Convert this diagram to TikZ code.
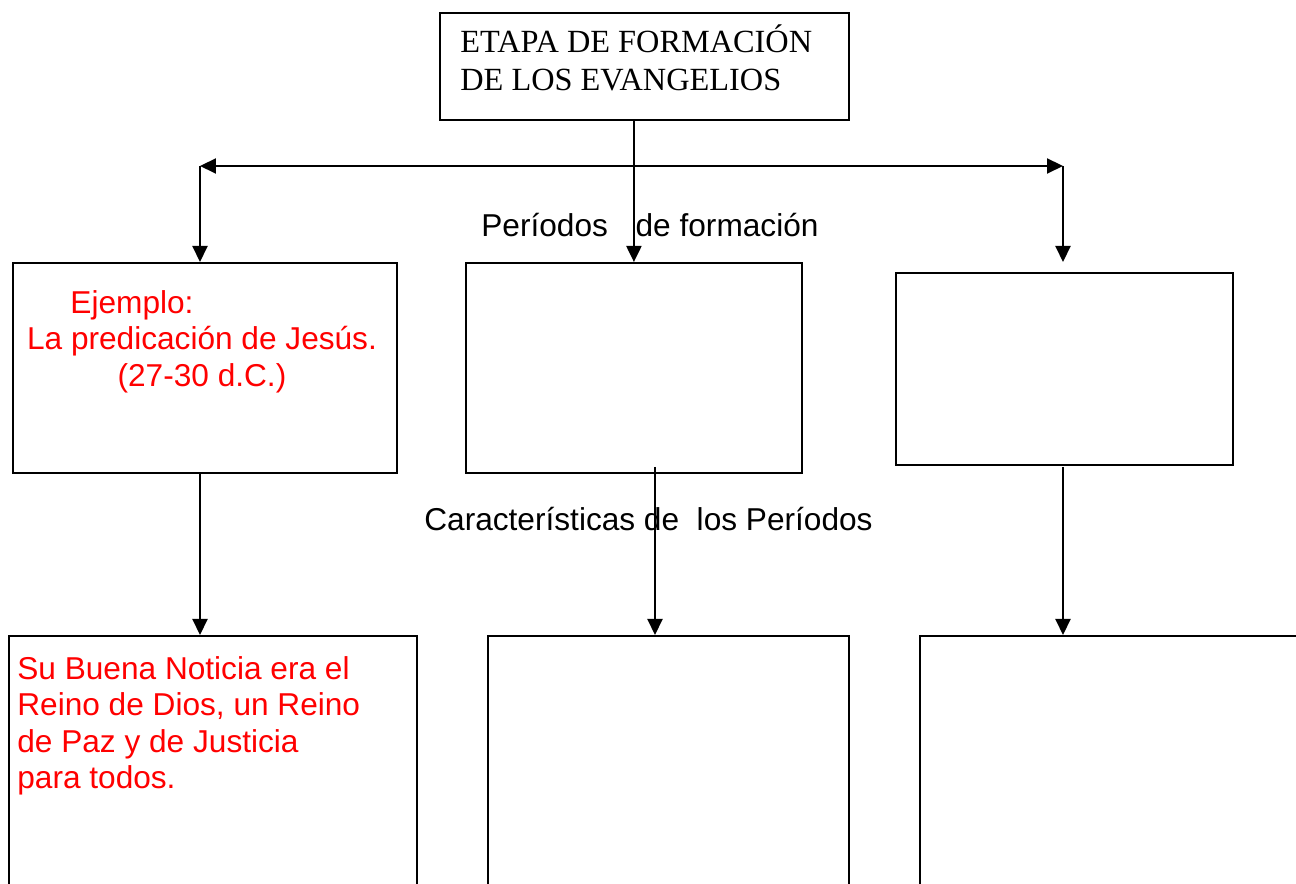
\documentclass[tikz,border=0pt]{standalone}
\usepackage{fontspec}
\setmainfont{Liberation Serif}
\newfontfamily\arialfont{Liberation Sans}
\usetikzlibrary{arrows.meta}

\begin{document}
\begin{tikzpicture}[x=0.02cm, y=-0.02cm,
    box/.style={rectangle, draw=black, line width=1.1pt, anchor=north west, inner sep=0pt},
    arr/.style={line width=1.2pt, -{Triangle[length=0.32cm, width=0.3cm]}},
    lbl/.style={font=\arialfont\fontsize{18}{21}\selectfont, anchor=base west, inner sep=0pt},
    redtxt/.style={font=\arialfont\fontsize{18}{20.8}\selectfont, text=red, inner sep=0pt}]
    \useasboundingbox (0,0) rectangle (1296,884);
    \clip (0,0) rectangle (1296,884);

    % top box
    \node (etapa) [box, minimum width=8.18cm, minimum height=2.14cm] at (439,12) {};
    \node (etapatxt) [align=left, anchor=base west, inner sep=0pt, font=\fontsize{18.4}{21.8}\selectfont] at (460,91) {ETAPA DE FORMACI\'ON\\DE LOS EVANGELIOS};

    % periods
    \node (per1) [box, minimum width=7.68cm, minimum height=4.2cm] at (12,262) {};
    \node (per2) [box, minimum width=6.72cm, minimum height=4.2cm] at (465,262) {};
    \node (per3) [box, minimum width=6.74cm, minimum height=3.84cm] at (895,272) {};

    % characteristics
    \node (car1) [box, minimum width=8.16cm, minimum height=6cm] at (8,635) {};
    \node (car2) [box, minimum width=7.22cm, minimum height=6cm] at (487,635) {};
    \node (car3) [box, minimum width=9cm, minimum height=6cm] at (919,635) {};

    % texts
    \node (ejemplo) [redtxt, align=center, anchor=north] at (202,290) {Ejemplo:\hspace*{2.8cm}\\La predicación de Jesús.\\(27-30 d.C.)};
    \node (noticia) [redtxt, align=left, anchor=north west] at (17,656) {Su Buena Noticia era el\\Reino de Dios, un Reino\\de Paz y de Justicia\\para todos.};
    \node (lblper) [lbl] at (481,237) {Períodos\hspace{0.6em} de formación};
    \node (lblcar) [lbl] at (424,531) {Características de\ \ los Períodos};

    % connectors
    \coordinate (hl) at (200,166);
    \coordinate (hr) at (1063,166);
    \coordinate (t3) at (1063,262);
    \coordinate (s2) at (655,467);
    \coordinate (s3) at (1063,467);
    \draw [line width=1.2pt, {Triangle[length=0.32cm, width=0.3cm]}-{Triangle[length=0.32cm, width=0.3cm]}] (hl) -- (hr);
    \draw [arr] (per2.north |- etapa.south) -- (per2.north);
    \draw [arr] (hl) -- (hl |- per1.north);
    \draw [arr] (hr) -- (t3);
    \draw [arr] (hl |- per1.south) -- (hl |- car1.north);
    \draw [arr] (s2) -- (s2 |- car2.north);
    \draw [arr] (s3) -- (s3 |- car3.north);
\end{tikzpicture}
\end{document}
